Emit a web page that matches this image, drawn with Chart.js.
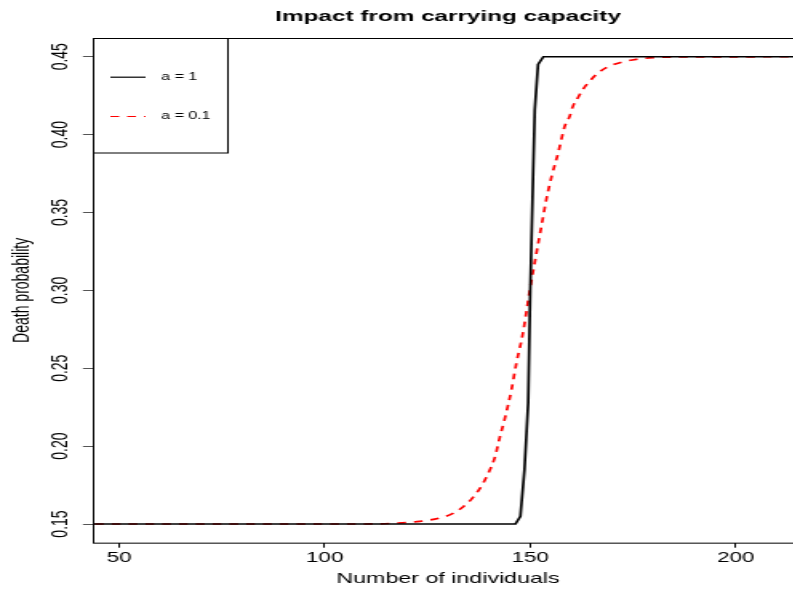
<!DOCTYPE html>
<html>
<head>
<meta charset="utf-8">
<title>Impact from carrying capacity</title>
<script src="https://cdn.jsdelivr.net/npm/chart.js@4.4.1/dist/chart.umd.min.js"></script>
<style>
  html, body { margin: 0; padding: 0; background: #fff; overflow: hidden; }
  /* the reference is stretched sideways, so the whole canvas is too */
  #wrap { width: 502px; height: 589px; transform: scaleX(1.6); transform-origin: 0 0; }
</style>
</head>
<body>
<div id="wrap"><canvas id="chart" width="502" height="589"></canvas></div>
<script>
// values
const blackX = [40, 146.4, 147.6, 148.6, 149.5, 150.0, 150.7, 151.1, 151.9, 153.2, 220];
const blackY = [0.15, 0.15, 0.155, 0.185, 0.228, 0.30, 0.375, 0.416, 0.445, 0.45, 0.45];

const redX = [40, 110, 117, 123.1, 128, 131.2, 133.7, 135.7, 137.5, 138.9, 140.1, 141.4, 142.6, 143.8,
  145.4, 146.6, 148.2, 149.9, 151.5, 152.7, 153.9, 155.2, 156.8, 158.4, 159.6, 160.4, 161.6, 162.8,
  164.5, 166.1, 168.5, 171.8, 175.8, 179.9, 185, 220];
const redY = [0.15, 0.15, 0.1505, 0.1517, 0.1539, 0.1568, 0.1611, 0.166, 0.1719, 0.1779, 0.1843, 0.1929,
  0.2058, 0.2176, 0.2358, 0.253, 0.2723, 0.3002, 0.3239, 0.341, 0.3582, 0.3732, 0.3883, 0.4054, 0.4118,
  0.4183, 0.4237, 0.429, 0.4344, 0.4387, 0.443, 0.4462, 0.4483, 0.4494, 0.4498, 0.45];

const seriesNames = ["a = 1", "a = 0.1"];
const xTicks = [50, 100, 150, 200];
const yTicks = [0.15, 0.20, 0.25, 0.30, 0.35, 0.40, 0.45];

const FONT = "'Liberation Sans', Arial, Helvetica, sans-serif";

function toPoints(xs, ys) {
  return xs.map((x, i) => ({ x: x, y: ys[i] }));
}

// frame around the plot region, like R's box()
const frame = {
  id: "frame",
  afterDraw(chart) {
    const { ctx, chartArea } = chart;
    ctx.save();
    ctx.strokeStyle = "#000";
    ctx.lineWidth = 1;
    ctx.strokeRect(Math.round(chartArea.left) + 0.5, Math.round(chartArea.top) + 0.5,
      chartArea.right - chartArea.left + 10, chartArea.bottom - chartArea.top);
    ctx.restore();
  },
};

// boxed legend in the top left corner
const boxLegend = {
  id: "boxLegend",
  afterDraw(chart) {
    const { ctx, chartArea } = chart;
    const left = Math.round(chartArea.left) + 0.5;
    const top = Math.round(chartArea.top) + 0.5;
    ctx.save();
    ctx.fillStyle = "#fff";
    ctx.fillRect(left, top, 84, 114.5);
    ctx.strokeStyle = "#000";
    ctx.lineWidth = 1;
    ctx.strokeRect(left, top, 84, 114.5);

    const rows = [38.7, 78];
    chart.data.datasets.forEach((ds, i) => {
      const y = top + rows[i];
      ctx.beginPath();
      ctx.strokeStyle = ds.borderColor;
      ctx.lineWidth = 1.2;
      ctx.setLineDash(ds.borderDash || []);
      ctx.moveTo(left + 10.5, y);
      ctx.lineTo(left + 32.5, y);
      ctx.stroke();
      ctx.setLineDash([]);
      ctx.fillStyle = "#000";
      ctx.font = "10px " + FONT;
      ctx.textBaseline = "middle";
      ctx.textAlign = "left";
      ctx.fillText(ds.label, left + 42.3, y);
    });
    ctx.restore();
  },
};

const ctx = document.getElementById("chart");

new Chart(ctx, {
  type: "line",
  data: {
    datasets: [
      {
        label: seriesNames[0],
        data: toPoints(blackX, blackY),
        borderColor: "#000000",
        borderWidth: 1.7,
        pointRadius: 0,
        tension: 0,
      },
      {
        label: seriesNames[1],
        data: toPoints(redX, redY),
        borderColor: "#ff0000",
        borderWidth: 1.7,
        borderDash: [5.5, 5],
        pointRadius: 0,
        cubicInterpolationMode: "monotone",
      },
    ],
  },
  options: {
    responsive: false,
    devicePixelRatio: 1,
    animation: false,
    layout: { padding: 0 },
    plugins: {
      legend: { display: false },
      tooltip: { enabled: false },
      title: {
        display: true,
        text: "Impact from carrying capacity",
        color: "#000",
        fullSize: false,
        font: { family: FONT, size: 15.2, weight: "bold" },
        padding: { top: 7.7, bottom: 12.1 },
      },
    },
    scales: {
      x: {
        type: "linear",
        min: 43.6,
        max: 216.4,
        afterBuildTicks: (axis) => {
          axis.ticks = xTicks.map((v) => ({ value: v }));
        },
        afterFit: (axis) => {
          axis.height = 46.3;
        },
        border: { display: false },
        grid: { drawOnChartArea: false, drawTicks: true, tickLength: 5, color: "#000", lineWidth: 1 },
        ticks: {
          color: "#000",
          padding: 2,
          maxRotation: 0,
          font: { family: FONT, size: 14 },
          callback: (v) => String(v),
        },
        title: {
          display: true,
          text: "Number of individuals",
          color: "#000",
          font: { family: FONT, size: 14.5 },
          padding: { top: 0, bottom: 1 },
        },
      },
      y: {
        type: "linear",
        min: 0.138,
        max: 0.462,
        afterBuildTicks: (axis) => {
          axis.ticks = yTicks.map((v) => ({ value: v }));
        },
        afterFit: (axis) => {
          axis.width = 58.1;
        },
        border: { display: false },
        grid: { drawOnChartArea: false, drawTicks: true, tickLength: 6.25, color: "#555", lineWidth: 1 },
        ticks: {
          color: "#000",
          padding: 0,
          minRotation: 90,
          maxRotation: 90,
          crossAlign: "center",
          font: { family: FONT, size: 14 },
          callback: (v) => v.toFixed(2),
        },
        title: {
          display: true,
          text: "Death probability",
          color: "#000",
          font: { family: FONT, size: 14 },
          padding: { top: 6, bottom: 0 },
        },
      },
    },
  },
  plugins: [frame, boxLegend],
});
</script>
</body>
</html>
